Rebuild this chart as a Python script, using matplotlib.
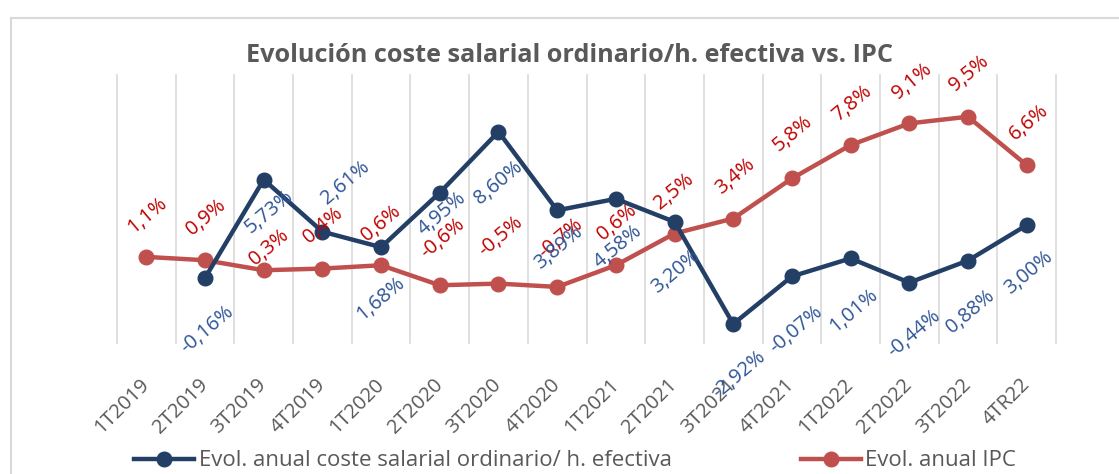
import matplotlib
matplotlib.use("Agg")
import matplotlib.pyplot as plt
from matplotlib.lines import Line2D
import numpy as np

plt.rcParams["font.family"] = ["Open Sans", "DejaVu Sans"]

# ---- datos ----
TITLE = "Evolución coste salarial ordinario/h. efectiva vs. IPC"
quarters = ["1T2019", "2T2019", "3T2019", "4T2019", "1T2020", "2T2020", "3T2020", "4T2020",
            "1T2021", "2T2021", "3T2021", "4T2021", "1T2022", "2T2022", "3T2022", "4TR22"]
coste = [None, -0.16, 5.73, 2.61, 1.68, 4.95, 8.60, 3.89,
         4.58, 3.20, -2.92, -0.07, 1.01, -0.44, 0.88, 3.00]
ipc = [1.1, 0.9, 0.3, 0.4, 0.6, -0.6, -0.5, -0.7,
       0.6, 2.5, 3.4, 5.8, 7.8, 9.1, 9.5, 6.6]
label_coste = "Evol. anual coste salarial ordinario/ h. efectiva"
label_ipc = "Evol. anual IPC"

# desplazamiento de etiquetas (px)
off_ipc = [(1, 42), (1, 43), (5, 23), (1, 43), (0, 42), (3, 47), (2, 47), (4, 49),
           (1, 43), (0, 42), (2, 42), (1, 45), (2, 42), (3, 42), (1, 43), (2, 43)]
off_coste = [None, (2, -52), (6, -32), (23, 49), (0, -51), (2, -21), (0, -51), (1, -37),
             (2, -48), (1, -50), (6, -51), (4, -53), (3, -52), (5, -51), (2, -51), (2, -48)]

C_BLUE = "#243F66"
C_RED = "#C0504D"
C_BLUE_TXT = "#2F5597"
C_RED_TXT = "#C00000"
C_GREY = "#595959"

W, H = 1119, 474
fig = plt.figure(figsize=(W / 100, H / 100), dpi=100)
ax = fig.add_axes([117 / W, (H - 343) / H, (1056 - 117) / W, (343 - 75) / H])

x = np.arange(len(quarters))
xc = [i for i, v in enumerate(coste) if v is not None]
yc = [v for v in coste if v is not None]

ax.plot(xc, yc, color=C_BLUE, lw=3.2, marker="o", ms=10.5, zorder=4,
        solid_capstyle="round")
ax.plot(x, ipc, color=C_RED, lw=3.2, marker="o", ms=10.5, zorder=3,
        solid_capstyle="round")

def fmt(v, dec):
    return f"{v:.{dec}f}%".replace(".", ",")

for i, v in enumerate(ipc):
    dx, dy = off_ipc[i]
    ax.annotate(fmt(v, 1), (i, v), xytext=(dx * 0.72, dy * 0.72), textcoords="offset points",
                ha="center", va="center", rotation=40, rotation_mode="anchor",
                color=C_RED_TXT, fontsize=14.5, zorder=5)
for i, v in enumerate(coste):
    if v is None:
        continue
    dx, dy = off_coste[i]
    ax.annotate(fmt(v, 2), (i, v), xytext=(dx * 0.72, dy * 0.72), textcoords="offset points",
                ha="center", va="center", rotation=40, rotation_mode="anchor",
                color=C_BLUE_TXT, fontsize=14.5, zorder=5)

ax.set_xlim(-0.5, len(quarters) - 0.5)
ax.set_ylim(-4.06, 12.0)
ax.set_yticks([])
ax.set_xticks(x)
ax.set_xticklabels(quarters, rotation=45, ha="right", va="center", rotation_mode="anchor",
                   color=C_GREY, fontsize=14.5)
ax.tick_params(axis="x", length=0, pad=28)
for b in np.arange(-0.5, len(quarters), 1):
    ax.axvline(b, color="#D9D9D9", lw=1.2, zorder=1, clip_on=False)
for s in ax.spines.values():
    s.set_visible(False)
ax.patch.set_alpha(0)

fig.text(570 / W, (H - 62) / H, TITLE, ha="center", va="baseline", fontsize=18.2,
         fontweight="bold", color=C_GREY)

# marco del gráfico
fig.add_artist(Line2D([10.5 / W, 1.0], [(H - 18) / H] * 2, color="#D9D9D9", lw=1.5))
fig.add_artist(Line2D([10.5 / W] * 2, [0, (H - 18) / H], color="#D9D9D9", lw=1.5))

handles = [Line2D([], [], color=C_BLUE, lw=3.2, marker="o", ms=10.5),
           Line2D([], [], color=C_RED, lw=3.2, marker="o", ms=10.5)]
fig.legend(handles, [label_coste, label_ipc], loc="center", bbox_to_anchor=(575 / W, (H - 461) / H),
           ncol=2, frameon=False, fontsize=16, labelcolor=C_GREY, handlelength=2.7,
           handletextpad=0.2, columnspacing=5.8, borderpad=0, borderaxespad=0)

fig.savefig("out.png", dpi=100)
